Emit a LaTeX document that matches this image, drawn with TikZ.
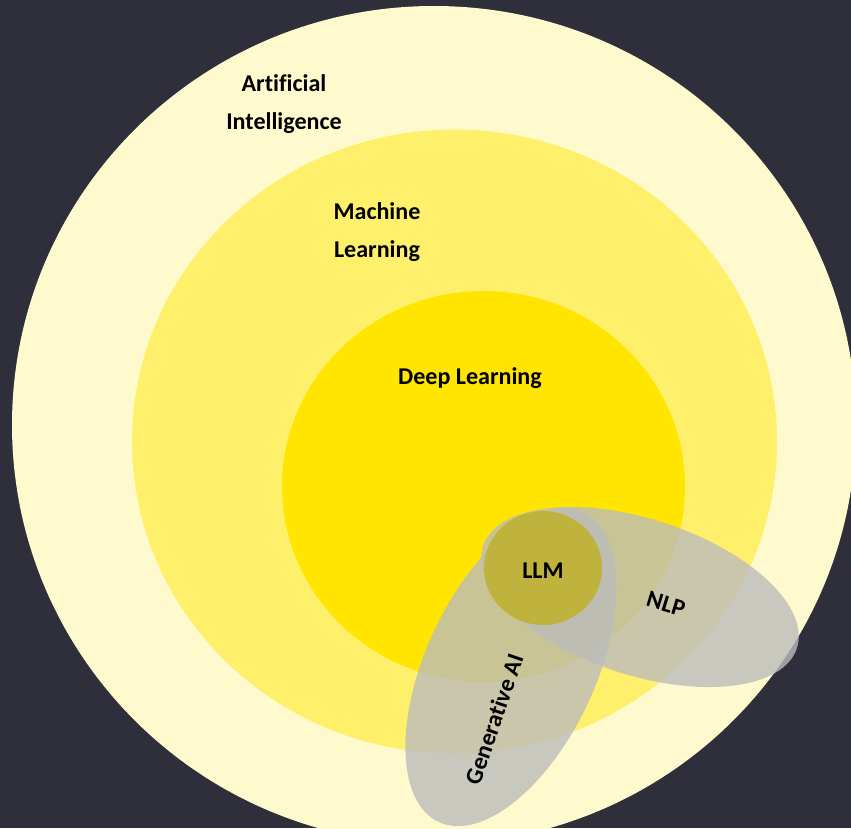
\documentclass[tikz,border=0pt]{standalone}
\usepackage{fontspec}
\setmainfont{Carlito}[Ligatures=NoCommon]

\definecolor{backdrop}{HTML}{2E2F3A}
\definecolor{aiyellow}{HTML}{FFFACD}
\definecolor{mlyellow}{HTML}{FFF06B}
\definecolor{dlyellow}{HTML}{FFE500}
\definecolor{llmolive}{HTML}{BFB33D}
\definecolor{fieldgray}{HTML}{BCBCBC}

\tikzset{
  label/.style={font=\fontsize{13.7}{21.6}\selectfont\bfseries, text=black, align=center, inner sep=0pt},
  field/.style={fill=fieldgray, fill opacity=0.8}
}

\begin{document}
\begin{tikzpicture}[x=0.02cm, y=-0.02cm]
  % background
  \fill[backdrop] (0,0) rectangle (851,828);
  \clip (0,0) rectangle (851,828);

  \coordinate (AI) at (434,425);
  \coordinate (ML) at (454.5,441.5);
  \coordinate (DL) at (483.5,486.5);
  \coordinate (LLM) at (543,568);
  \coordinate (NLP) at (640,597);
  \coordinate (GEN) at (511,667);

  % nested circles
  \fill[aiyellow] (AI) ellipse [x radius=422, y radius=419];
  \fill[mlyellow] (ML) ellipse [x radius=322.5, y radius=312];
  \fill[dlyellow] (DL) ellipse [x radius=201.5, y radius=195.5];

  % overlapping fields
  \fill[field, rotate around={65:(GEN)}] (GEN) ellipse [x radius=171, y radius=85];
  \fill[field, rotate around={-18:(NLP)}] (NLP) ellipse [x radius=165, y radius=78];
  \fill[llmolive] (LLM) ellipse [x radius=59, y radius=57];

  % labels
  \node[label] (ailabel) at (284,104) {Artificial\\Intelligence};
  \node[label] (mllabel) at (377,232) {Machine\\Learning};
  \node[label] (dllabel) at (470,378) {Deep Learning};
  \node[label] (llmlabel) at (543,571) {LLM};
  \node[label, rotate=-17] (nlplabel) at (666,604) {NLP};
  \node[label, rotate=71] (genlabel) at (494,719) {Generative AI};
\end{tikzpicture}
\end{document}
